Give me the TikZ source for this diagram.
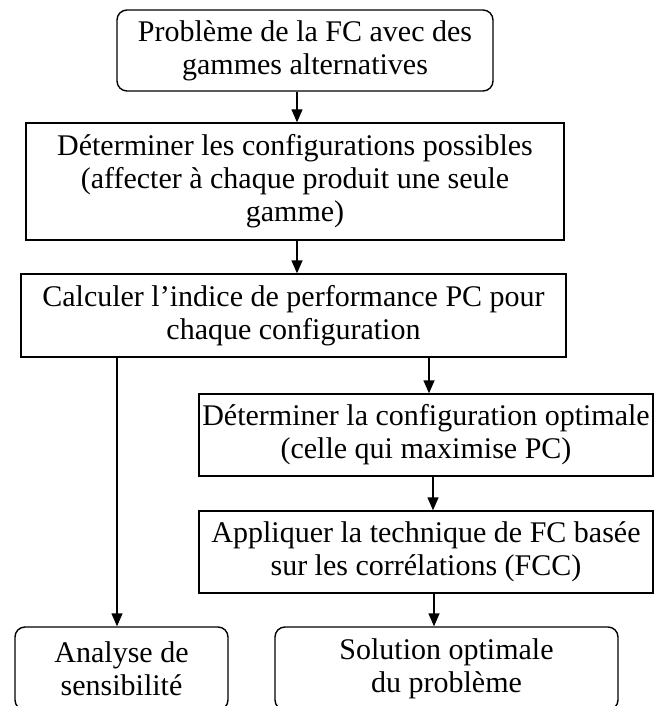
\documentclass[tikz,border=0pt]{standalone}
\usepackage{fontspec}
\setmainfont{Liberation Serif}
\usetikzlibrary{arrows.meta}
\tikzset{
	box/.style={draw, line width=0.7pt, align=center, inner sep=1pt, font=\fontsize{15}{16.5}\selectfont},
	roundbox/.style={box, rounded corners=5pt},
	>={Triangle[length=6.5pt,width=5.5pt]}
}
\begin{document}
\begin{tikzpicture}[x=0.5pt,y=-0.5pt]
			\useasboundingbox (0,0) rectangle (658,706);
			\clip (0,0) rectangle (658,706);
			\node	(b1) at (305,50.5) [roundbox, minimum width=188pt, minimum height=40.5pt] {Problème de la FC avec des\\gammes alternatives};
			\node	(b2) at (295,181.5) [box, minimum width=269pt, minimum height=58.5pt] {Déterminer les configurations possibles\\(affecter à chaque produit une seule\\gamme)};
			\node	(b3) at (293.5,315.5) [box, minimum width=272.5pt, minimum height=41.5pt] {Calculer l’indice de performance PC pour\\chaque configuration};
			\node	(b4) at (426,435) [box, minimum width=227pt, minimum height=41pt] {Déterminer la configuration optimale\\(celle qui maximise PC)};
			\node	(b5) at (426,552) [box, minimum width=227pt, minimum height=41pt] {Appliquer la technique de FC basée\\sur les corrélations (FCC)};
			\node	(b6) at (121.5,668.5) [roundbox, minimum width=106.5pt, minimum height=41.5pt] {Analyse de\\sensibilité};
			\node	(b7) at (446.5,668.5) [roundbox, minimum width=171.5pt, minimum height=41.5pt] {Solution optimale\\du problème};
			\draw[line width=0.7pt]
			([xshift=-4pt]b1.south) edge[->] ([xshift=-4pt]b1.south |- b2.north)
			([xshift=1pt]b2.south) edge[->] ([xshift=1pt]b2.south |- b3.north)
			([xshift=-2.25pt]b6.north |- b3.south) edge[->] ([xshift=-2.25pt]b6.north)
			([xshift=1.5pt]b4.north |- b3.south) edge[->] ([xshift=1.5pt]b4.north)
			([xshift=3.5pt]b4.south) edge[->] ([xshift=3.5pt]b5.north)
			([xshift=4pt]b5.south) edge[->] ([xshift=4pt]b5.south |- b7.north)
			
			;
		\end{tikzpicture}
\end{document}
